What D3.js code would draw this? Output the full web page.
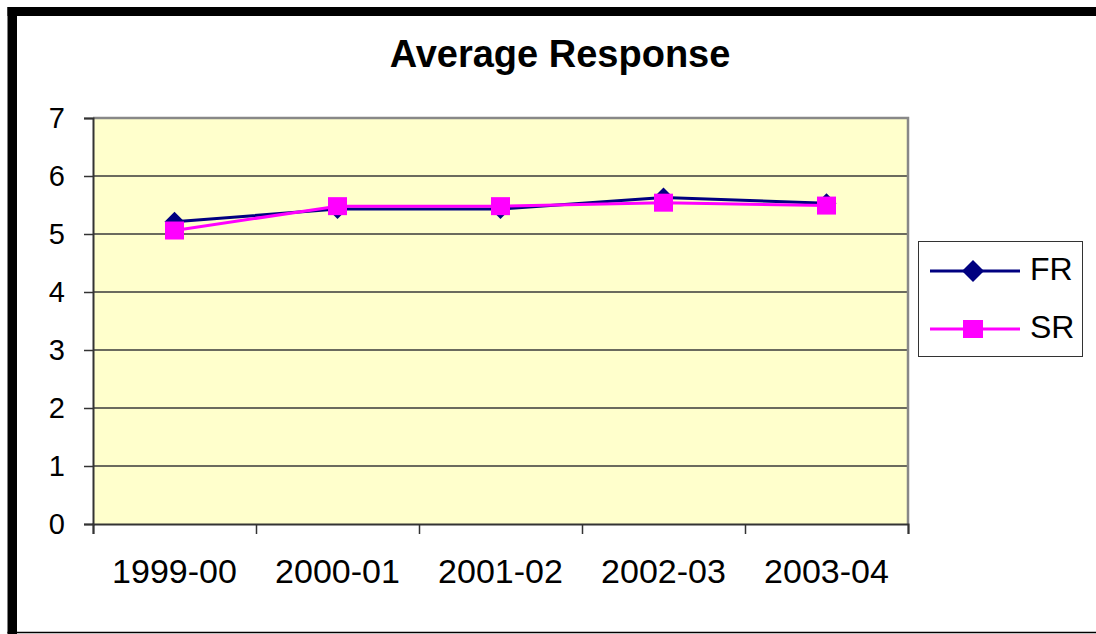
<!DOCTYPE html>
<html>
<head>
<meta charset="utf-8">
<script src="https://cdn.jsdelivr.net/npm/d3@7/dist/d3.min.js"></script>
<style>
html,body{margin:0;padding:0;background:#fff;}
svg{display:block;font-family:"Liberation Sans",Arial,sans-serif;}
</style>
</head>
<body>
<svg id="chart" width="1096" height="634"></svg>
<script>
const categories = ["1999-00","2000-01","2001-02","2002-03","2003-04"];
const seriesNames = ["FR","SR"];
const frValues = [5.21, 5.43, 5.43, 5.63, 5.53];
const srValues = [5.06, 5.48, 5.48, 5.54, 5.49];
const yTicks = [0,1,2,3,4,5,6,7];
const titleText = "Average Response";

const svg = d3.select("#chart");
const W = 1096, H = 634;
const plot = {left: 93, right: 908, top: 118, bottom: 524};

// outer chart frame
svg.append("rect").attr("x",7.5).attr("y",7).attr("width",9.5).attr("height",H-7).attr("fill","#000");
svg.append("rect").attr("x",7.5).attr("y",7).attr("width",W-7.5).attr("height",9).attr("fill","#000");
svg.append("line").attr("x1",7.5).attr("x2",W).attr("y1",632.5).attr("y2",632.5).attr("stroke","#000").attr("stroke-width",1.5);

const x = d3.scaleBand().domain(categories).range([plot.left, plot.right]).padding(0);
const xEdge = d3.scaleLinear().domain([0, categories.length]).range([plot.left, plot.right]);
const y = d3.scaleLinear().domain([0,7]).range([plot.bottom, plot.top]);

// plot background
svg.append("rect").attr("x",plot.left).attr("y",plot.top)
  .attr("width",plot.right-plot.left).attr("height",plot.bottom-plot.top)
  .attr("fill","#FFFFCC");

// gridlines
svg.append("g").selectAll("line").data(yTicks.filter(d=>d>0 && d<7)).join("line")
  .attr("x1",plot.left).attr("x2",plot.right)
  .attr("y1",d=>y(d)).attr("y2",d=>y(d))
  .attr("stroke","#3a3a3a").attr("stroke-width",1.5);

// plot border top/right (gray)
svg.append("path")
  .attr("d",`M${plot.left},${plot.top}H${plot.right}V${plot.bottom}`)
  .attr("fill","none").attr("stroke","#888").attr("stroke-width",2.5);

// y axis
const yAxis = svg.append("g").attr("transform",`translate(${plot.left},0)`)
  .call(d3.axisLeft(y).tickValues(yTicks).tickFormat(d3.format("d")).tickSize(9).tickPadding(19));
yAxis.select(".domain").attr("stroke","#333").attr("stroke-width",2);
yAxis.selectAll(".tick line").attr("stroke","#333").attr("stroke-width",1.5);
yAxis.selectAll("text").attr("font-size",29).attr("fill","#000")
  .attr("font-family",'"Liberation Sans",Arial,sans-serif');

// x axis: boundary ticks
const xTickAxis = svg.append("g").attr("transform",`translate(0,${plot.bottom})`)
  .call(d3.axisBottom(xEdge).tickValues(d3.range(categories.length+1)).tickFormat("").tickSize(10));
xTickAxis.select(".domain").attr("stroke","#333").attr("stroke-width",2);
xTickAxis.selectAll(".tick line").attr("stroke","#333").attr("stroke-width",1.5);

// x axis labels
const xAxis = svg.append("g").attr("transform",`translate(0,${plot.bottom})`)
  .call(d3.axisBottom(x).tickSize(0).tickPadding(35));
xAxis.select(".domain").remove();
xAxis.selectAll("text").attr("font-size",34).attr("fill","#000")
  .attr("font-family",'"Liberation Sans",Arial,sans-serif');

// title
svg.append("text").attr("x",560).attr("y",67).attr("text-anchor","middle")
  .attr("font-size",38).attr("font-weight","bold").attr("fill","#000").text(titleText);

const line = d3.line().x((d,i)=>x(categories[i]) + x.bandwidth()/2).y(d=>y(d));
const diamond = (s) => `M0,${-s}L${s},0L0,${s}L${-s},0Z`;

// FR
svg.append("path").datum(frValues).attr("d",line)
  .attr("fill","none").attr("stroke","#000080").attr("stroke-width",3);
svg.append("g").selectAll("path").data(frValues).join("path")
  .attr("transform",(d,i)=>`translate(${x(categories[i])+x.bandwidth()/2},${y(d)})`)
  .attr("d",diamond(10)).attr("fill","#000080");

// SR
svg.append("path").datum(srValues).attr("d",line)
  .attr("fill","none").attr("stroke","#FF00FF").attr("stroke-width",3);
svg.append("g").selectAll("rect").data(srValues).join("rect")
  .attr("x",(d,i)=>x(categories[i])+x.bandwidth()/2-9.5)
  .attr("y",d=>y(d)-9)
  .attr("width",19).attr("height",18).attr("fill","#FF00FF");

// legend
const lg = svg.append("g");
lg.append("rect").attr("x",918.5).attr("y",241.5).attr("width",164).attr("height",115)
  .attr("fill","#fff").attr("stroke","#333").attr("stroke-width",1);
const legendRows = [
  {name: seriesNames[0], color:"#000080", ly:271, ty:280, shape:"diamond"},
  {name: seriesNames[1], color:"#FF00FF", ly:329, ty:338, shape:"square"}
];
legendRows.forEach(r=>{
  lg.append("line").attr("x1",930).attr("x2",1020).attr("y1",r.ly).attr("y2",r.ly)
    .attr("stroke",r.color).attr("stroke-width",3);
  if(r.shape==="diamond"){
    lg.append("path").attr("transform",`translate(973,${r.ly})`).attr("d",diamond(11)).attr("fill",r.color);
  } else {
    lg.append("rect").attr("x",963).attr("y",r.ly-9).attr("width",20).attr("height",18).attr("fill",r.color);
  }
  lg.append("text").attr("x",1030).attr("y",r.ty).attr("font-size",32).attr("fill","#000").text(r.name);
});
</script>
</body>
</html>
